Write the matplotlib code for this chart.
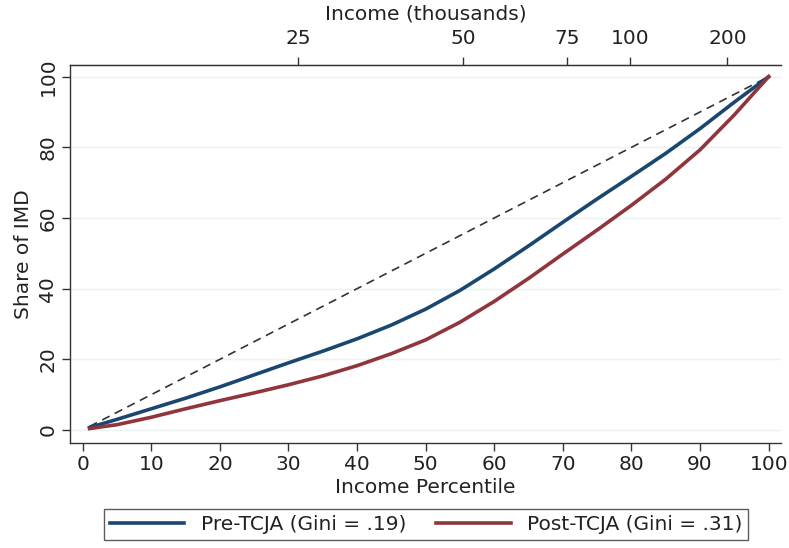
import matplotlib
matplotlib.use("Agg")
import matplotlib.pyplot as plt

percentile = [1, 5, 10, 15, 20, 25, 30, 35, 40, 45, 50, 55, 60, 65, 70, 75, 80, 85, 90, 95, 100]
pre_tcja = [0.7, 3, 6, 9, 12.2, 15.6, 19, 22.3, 25.8, 29.7, 34.2, 39.5, 45.6, 52.1, 58.8, 65.4, 71.8, 78.3, 85.3, 92.8, 100]
post_tcja = [0.4, 1.5, 3.6, 6, 8.3, 10.5, 12.8, 15.3, 18.2, 21.6, 25.5, 30.5, 36.4, 42.9, 49.8, 56.6, 63.6, 71, 79.3, 89.2, 100]
equality = [1, 100]

income_ticks_pct = [31.4, 55.5, 70.6, 79.8, 94.0]
income_tick_labels = ["25", "50", "75", "100", "200"]

x_ticks = [0, 10, 20, 30, 40, 50, 60, 70, 80, 90, 100]
y_ticks = [0, 20, 40, 60, 80, 100]

blue = "#1a476f"
red = "#90353b"
fs = 14.5

fig = plt.figure(figsize=(7.89, 5.48), dpi=100)
ax = fig.add_axes([70/789, 1-442.7/548, (781-70)/789, (442.7-65)/548])

for y in y_ticks:
    ax.axhline(y, color="#eaf2f3", lw=1.0, zorder=0)

ax.plot(equality, equality, color="#333333", lw=1.2, ls=(0, (5, 3.5)), zorder=2)
ax.plot(percentile, pre_tcja, color=blue, lw=2.6, label="Pre-TCJA (Gini = .19)", zorder=3)
ax.plot(percentile, post_tcja, color=red, lw=2.6, label="Post-TCJA (Gini = .31)", zorder=3)

ax.set_xlim(-1.85, 101.8)
ax.set_ylim(-3.6, 103.3)
ax.set_xticks(x_ticks)
ax.set_yticks(y_ticks)
ax.tick_params(axis="both", labelsize=fs, length=6, width=1, color="#333333", labelcolor="#222222", pad=3)
for lbl in ax.get_yticklabels():
    lbl.set_rotation(90)
    lbl.set_va("center")
ax.spines["right"].set_visible(False)
for s in ["left", "bottom", "top"]:
    ax.spines[s].set_color("#333333")
    ax.spines[s].set_linewidth(1.0)
ax.set_xlabel("Income Percentile", fontsize=fs, color="#222222", labelpad=3)
ax.set_ylabel("Share of IMD", fontsize=fs, color="#222222", labelpad=4)

top = ax.twiny()
top.set_xlim(ax.get_xlim())
top.set_xticks(income_ticks_pct)
top.set_xticklabels(income_tick_labels)
top.tick_params(axis="x", labelsize=fs, length=6, width=1, color="#333333", labelcolor="#222222", pad=6)
top.spines["right"].set_visible(False)
top.spines["left"].set_visible(False)
top.spines["bottom"].set_visible(False)
top.spines["top"].set_color("#333333")
top.set_xlabel("Income (thousands)", fontsize=fs, color="#222222", labelpad=7)

h, l = ax.get_legend_handles_labels()
leg = fig.legend(h, l, loc="center", bbox_to_anchor=(426/789, 1-524.5/548), ncol=2,
                 fontsize=fs, frameon=True, fancybox=False, edgecolor="#333333",
                 handlelength=3.7, handletextpad=0.8, columnspacing=1.5, borderpad=0.3,
                 borderaxespad=0)
leg.get_frame().set_linewidth(1.0)
for t in leg.get_texts():
    t.set_color("#222222")

fig.savefig("out.png", dpi=100, facecolor="white")
